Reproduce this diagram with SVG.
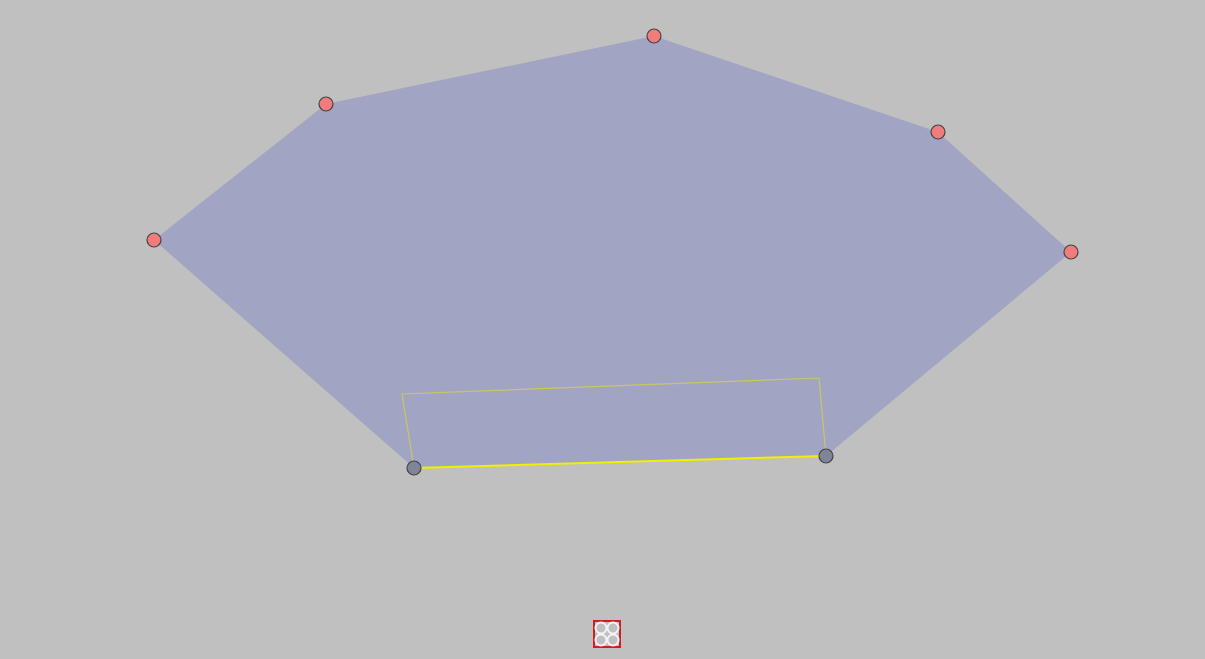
<svg xmlns="http://www.w3.org/2000/svg" width="1205" height="659" viewBox="0 0 1205 659">
<style>
.v{fill:#f07c7c;stroke:#444;stroke-width:1.2}
.g{fill:#7f8496;stroke:#444;stroke-width:1.2}
</style>
<rect width="1205" height="659" fill="#c0c0c0"/>
<g id="shape">
<polygon points="154,240 326,104 654,36 938,132 1071,252 826,456 414,468" fill="#a1a5c3"/>
</g>
<g id="connectors">
<polyline points="414,468 402,394 819,378 826,456" fill="none" stroke="#c8c860" stroke-width="1.2"/>
<line x1="414" y1="468" x2="826" y2="456" stroke="#f0f000" stroke-width="2"/>
</g>
<g id="n1"><circle class="v" cx="154" cy="240" r="7"/></g>
<g id="n2"><circle class="v" cx="326" cy="104" r="7"/></g>
<g id="n3"><circle class="v" cx="654" cy="36" r="7"/></g>
<g id="n4"><circle class="v" cx="938" cy="132" r="7"/></g>
<g id="n5"><circle class="v" cx="1071" cy="252" r="7"/></g>
<g id="n6"><circle class="g" cx="826" cy="456" r="7"/></g>
<g id="n7"><circle class="g" cx="414" cy="468" r="7"/></g>
<g id="icon">
<rect x="594" y="621" width="26" height="26" fill="#c0c0c0" stroke="#cc2020" stroke-width="2"/>
<g fill="none" stroke="#f4f4f4" stroke-width="2">
<circle cx="601" cy="628" r="5.5"/><circle cx="613" cy="628" r="5.5"/>
<circle cx="601" cy="640" r="5.5"/><circle cx="613" cy="640" r="5.5"/>
</g>
</g>
</svg>
